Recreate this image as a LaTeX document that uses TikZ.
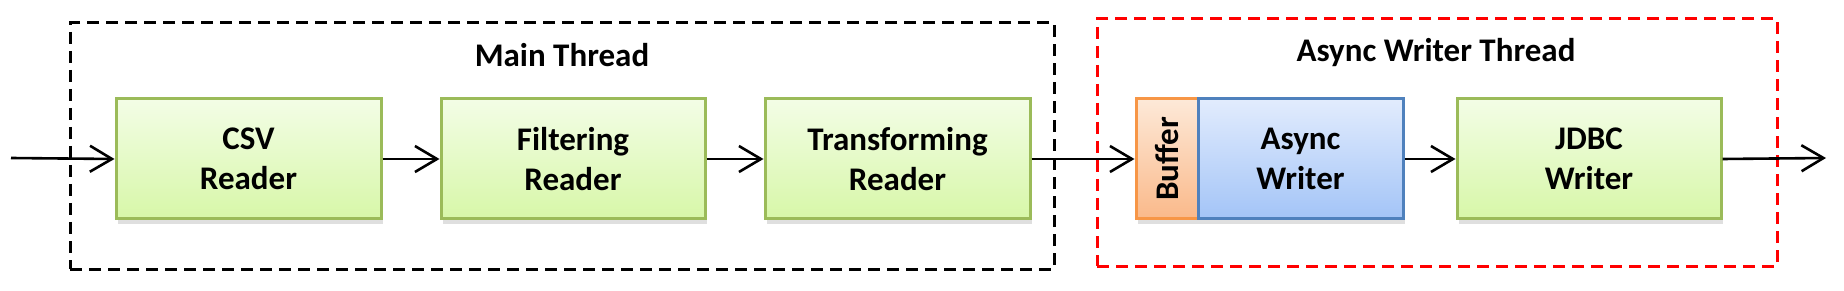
\documentclass[tikz,border=0pt]{standalone}
\usepackage{fontspec}
\setmainfont{Carlito}
\usetikzlibrary{arrows.meta,shadows}
\definecolor{gborder}{HTML}{9BBB59}
\definecolor{gtop}{HTML}{F3FDE6}
\definecolor{gbot}{HTML}{D7F7A8}
\definecolor{bborder}{HTML}{4F81BD}
\definecolor{btop}{HTML}{E2ECFD}
\definecolor{bbot}{HTML}{A3C4F7}
\definecolor{oborder}{HTML}{F79646}
\definecolor{otop}{HTML}{FDE9D8}
\definecolor{obot}{HTML}{FAB98A}
\definecolor{dred}{HTML}{FF0000}
\tikzset{
  lbl/.style={font=\bfseries\fontsize{33}{40}\selectfont, align=center},
  box/.style={lbl, draw, line width=3pt, minimum height=120pt, inner sep=0pt,
    drop shadow={opacity=0.25, shadow xshift=2pt, shadow yshift=-5pt}},
  greenbox/.style={box, draw=gborder, top color=gtop, bottom color=gbot},
  bluebox/.style={box, draw=bborder, top color=btop, bottom color=bbot},
  orangebox/.style={box, draw=oborder, top color=otop, bottom color=obot},
  flow/.style={line width=2.6pt, -{Straight Barb[length=22pt,width=26pt]}},
  thread/.style={line width=3pt, dash pattern=on 12pt off 7pt, inner sep=0pt},
  title/.style={font=\bfseries\fontsize{33}{40}\selectfont, anchor=base}
}
\begin{document}
\begin{tikzpicture}[x=1pt,y=-1pt]
\useasboundingbox (0,0) rectangle (1844,291);
% thread frames
\node[thread, draw=black, minimum width=984pt, minimum height=246pt] (main) at (562,146) {};
\node[thread, draw=dred, minimum width=680pt, minimum height=247pt] (async) at (1437,142.5) {};
\node[title] (maint) at (562,67) {Main Thread};
\node[title] (asynct) at (1436,62) {Async Writer Thread};
% boxes
\node[greenbox, minimum width=265pt] (csv) at (248.5,159) {CSV\\Reader};
\node[greenbox, minimum width=264pt] (filt) at (573,159) {Filtering\\Reader};
\node[greenbox, minimum width=265pt] (trans) at (897.5,159) {Transforming\\Reader};
\node[orangebox, minimum width=62pt] (buf) at (1167,159) {\rotatebox{90}{Buffer}};
\node[bluebox, minimum width=205pt] (aw) at (1300.5,159) {Async\\Writer};
\node[greenbox, minimum width=264pt] (jdbc) at (1589,159) {JDBC\\Writer};
% connectors
\coordinate (in) at (11,158);
\coordinate (out) at (1826,158);
\draw[flow] (in) -- (csv.west);
\draw[flow] (csv.east) -- (filt.west);
\draw[flow] (filt.east) -- (trans.west);
\draw[flow] (trans.east) -- (buf.west);
\draw[flow] (aw.east) -- (jdbc.west);
\draw[flow] (jdbc.east) -- (out);
\end{tikzpicture}
\end{document}
